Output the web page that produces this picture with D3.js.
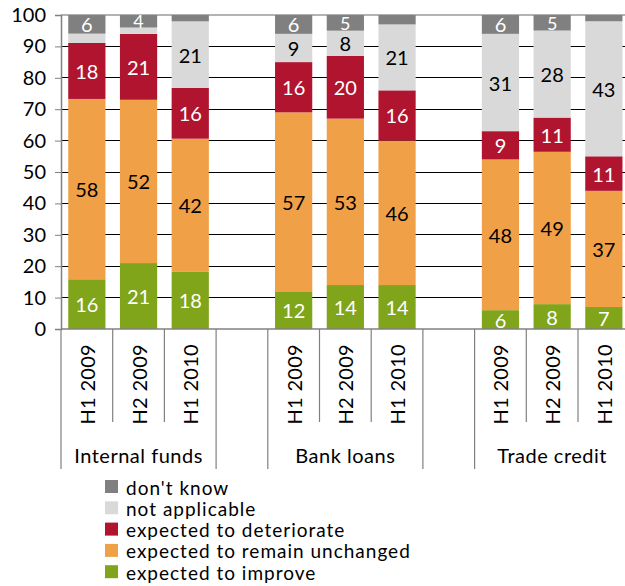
<!DOCTYPE html>
<html><head><meta charset="utf-8">
<script src="https://cdn.jsdelivr.net/npm/d3@7"></script>
<style>body{margin:0;background:#fff}svg{display:block}text{font-family:Lato,"Open Sans",sans-serif}</style>
</head><body><svg id="c" width="625" height="586"></svg>
<script>
const groups = ["Internal funds","Bank loans","Trade credit"];
const periods = ["H1 2009","H2 2009","H1 2010"];
const improve       = [16,21,18, 12,14,14, 6, 8, 7];
const unchanged     = [58,52,42, 57,53,46, 48,49,37];
const deteriorate   = [18,21,16, 16,20,16, 9,11,11];
const notApplicable = [3, 2,21,  9, 8,21, 31,28,43];
const dontKnow      = [6, 4, 2,  6, 5, 3,  6, 5, 2];
const seriesNames = ["expected to improve","expected to remain unchanged","expected to deteriorate","not applicable","don't know"];
const yTicks = [0,10,20,30,40,50,60,70,80,90,100];

const colors = ["#80a51b","#f0a046","#b0142f","#d9d9d9","#808080"];
const labelColors = ["#fff","#000","#fff","#000","#fff"];
const seriesVals = [improve, unchanged, deteriorate, notApplicable, dontKnow];

const svg = d3.select("#c");
const L = 61, T = 15, B = 329;
const slots = [];
groups.forEach((g,gi)=>{
  periods.forEach((p,pi)=>slots.push({id:g+"|"+p, g, p, idx: gi*3+pi}));
  if (gi < groups.length-1) slots.push({id:"gap"+gi, gap:true});
});
const step = 51.7;
const x = d3.scaleBand().domain(slots.map(s=>s.id)).range([L, L + step*slots.length]).paddingInner(0.28).paddingOuter(0.14);
const y = d3.scaleLinear().domain([0,100]).range([B,T]);

svg.append("g").selectAll("line").data(yTicks.filter(t=>t>0 && t<100)).join("line")
  .attr("x1",L).attr("x2",625).attr("y1",d=>y(d)).attr("y2",d=>y(d))
  .attr("stroke","#000").attr("stroke-width",1).attr("shape-rendering","crispEdges");
svg.append("line").attr("x1",L).attr("x2",625).attr("y1",y(100)).attr("y2",y(100))
  .attr("stroke","#9a9a9a").attr("stroke-width",1.5);

const bars = slots.filter(s=>!s.gap);
bars.forEach(s=>{
  const vals = seriesVals.map(a=>a[s.idx]);
  const total = d3.sum(vals);
  let cum = 0;
  vals.forEach((v,si)=>{
    const y0 = cum/total*100, y1 = (cum+v)/total*100;
    cum += v;
    svg.append("rect").attr("x",x(s.id)).attr("width",x.bandwidth())
      .attr("y",y(y1)).attr("height",y(y0)-y(y1)).attr("fill",colors[si]);
    if (v >= 4) {
      svg.append("text").attr("x",x(s.id)+x.bandwidth()/2).attr("y",y((y0+y1)/2))
        .attr("text-anchor","middle").attr("dominant-baseline","central")
        .attr("font-size",v < 6 ? 18 : 20).attr("fill",labelColors[si]).text(v);
    }
  });
});

const ya = svg.append("g").attr("transform",`translate(${L},0)`)
  .call(d3.axisLeft(y).tickValues(yTicks).tickSize(6).tickPadding(9));
ya.select(".domain").attr("stroke","#808080").attr("stroke-width",1.5);
ya.selectAll(".tick line").attr("stroke","#808080");
ya.selectAll(".tick text").attr("font-size",20).attr("fill","#000").attr("font-family","Lato");

svg.append("line").attr("x1",L).attr("x2",625).attr("y1",B).attr("y2",B).attr("stroke","#808080").attr("stroke-width",1.5);

const sepColor = "#808080";
slots.forEach((s,i)=>{
  const xl = x(s.id) - x.step()*x.paddingInner()/2;
  const prev = slots[i-1];
  const long = i===0 || s.gap || (prev && prev.gap);
  svg.append("line").attr("x1",xl).attr("x2",xl).attr("y1",B).attr("y2", long?469:422)
    .attr("stroke",sepColor).attr("stroke-width",1.2);
});

bars.forEach(s=>{
  const cx = x(s.id)+x.bandwidth()/2;
  svg.append("text").attr("transform",`translate(${cx},344) rotate(-90)`)
    .attr("text-anchor","end").attr("dominant-baseline","central")
    .attr("font-size",20).attr("letter-spacing",0.3).attr("fill","#000").text(s.p);
});
groups.forEach(g=>{
  const first = x(g+"|"+periods[0]) - x.step()*x.paddingInner()/2;
  const last = x(g+"|"+periods[2]) + x.bandwidth() + x.step()*x.paddingInner()/2;
  svg.append("text").attr("x",(first+last)/2).attr("y",455)
    .attr("text-anchor","middle").attr("dominant-baseline","central")
    .attr("font-size",20).attr("letter-spacing",0.5).attr("fill","#000").text(g);
});

const legendOrder = [4,3,2,1,0];
legendOrder.forEach((si,k)=>{
  const cy = 487 + k*21.3;
  svg.append("rect").attr("x",105).attr("y",cy-7).attr("width",13).attr("height",13).attr("fill",colors[si]);
  svg.append("text").attr("x",126).attr("y",cy).attr("dominant-baseline","central")
    .attr("font-size",19).attr("letter-spacing",1).attr("fill","#000").text(seriesNames[si]);
});
</script></body></html>
